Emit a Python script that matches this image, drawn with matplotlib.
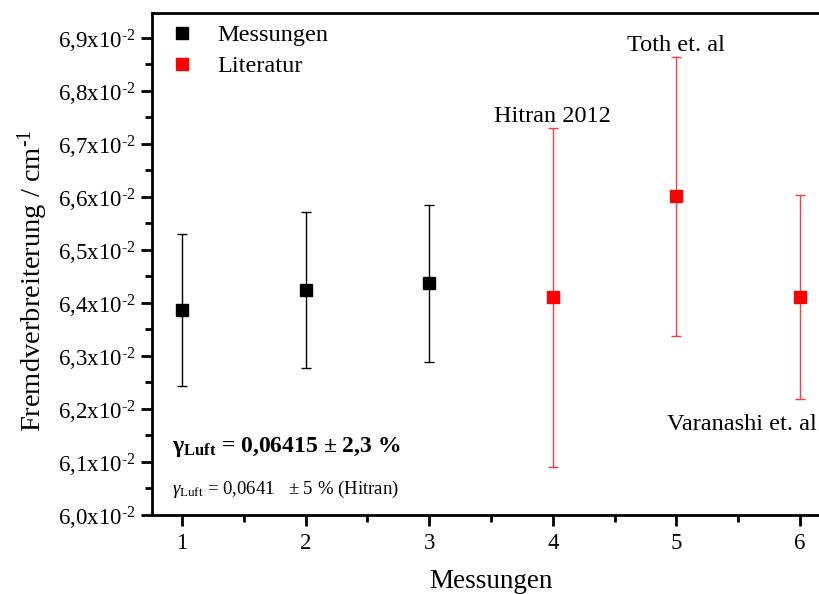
import matplotlib
matplotlib.use("Agg")
import matplotlib.pyplot as plt
from matplotlib.lines import Line2D
from matplotlib.ticker import FixedLocator, FuncFormatter, MultipleLocator

plt.rcParams["font.family"] = ["Liberation Serif", "DejaVu Serif"]
plt.rcParams["mathtext.fontset"] = "custom"
plt.rcParams["mathtext.rm"] = "Liberation Serif"
plt.rcParams["mathtext.it"] = "Liberation Serif:italic"
plt.rcParams["mathtext.bf"] = "Liberation Serif:bold"

# eigene Messungen
mess_x = [1, 2, 3]
mess_y = [0.06387, 0.06425, 0.06437]
mess_err = [0.00143, 0.00147, 0.00148]

# Literaturwerte
lit_x = [4, 5, 6]
lit_y = [0.06411, 0.06601, 0.06411]
lit_err = [0.00320, 0.00263, 0.00193]
lit_names = ["Hitran 2012", "Toth et. al", "Varanashi et. al"]

y_ticks = [0.060, 0.061, 0.062, 0.063, 0.064, 0.065, 0.066, 0.067, 0.068, 0.069]
x_ticks = [1, 2, 3, 4, 5, 6]

W, H = 819, 594
fig = plt.figure(figsize=(W / 100, H / 100), dpi=100)
ax = fig.add_axes([152 / W, (H - 515) / H, (830 - 152) / W, (515 - 13) / H])

ax.errorbar(mess_x, mess_y, yerr=mess_err, fmt="s", color="black",
            ecolor="black", elinewidth=1.0, capsize=3.6, capthick=1.0,
            markersize=8.4)
ax.errorbar(lit_x, lit_y, yerr=lit_err, fmt="s", color="#ff0000",
            ecolor="#ff3b3b", elinewidth=1.0, capsize=3.6, capthick=1.0,
            markersize=8.4)

ax.set_xlim(0.757, 6.243)
ax.set_ylim(0.060, 0.06947)

ax.xaxis.set_major_locator(FixedLocator(x_ticks))
ax.xaxis.set_minor_locator(MultipleLocator(0.5))
ax.yaxis.set_major_locator(FixedLocator(y_ticks))
ax.yaxis.set_minor_locator(MultipleLocator(0.0005))


def fmt_y(v, pos):
    # Exponent mit kurzem Bindestrich statt Minuszeichen
    return f"{v * 100:.1f}".replace(".", ",") + "x10$^{\u2010\\mathrm{2}}$"


ax.yaxis.set_major_formatter(FuncFormatter(fmt_y))
ax.tick_params(which="major", direction="out", length=8, width=2, labelsize=16.5,
               top=False, right=False)
ax.tick_params(which="minor", direction="out", length=5, width=2,
               top=False, right=False)
ax.tick_params(axis="x", pad=5)
ax.tick_params(axis="y", pad=4)

for side in ["left", "bottom", "top"]:
    ax.spines[side].set_linewidth(2)
ax.spines["right"].set_visible(False)

ax.set_xlabel("Messungen", fontsize=19.5)
ax.xaxis.set_label_coords(0.5, -0.108)
ax.set_ylabel("Fremdverbreiterung / cm$^{\u2010\\mathrm{1}}$", fontsize=20.5)
ax.yaxis.set_label_coords(-0.151, 0.466)

# Beschriftung der Literaturwerte
ax.text(lit_x[0], lit_y[0] + lit_err[0] + 0.00011, lit_names[0],
        ha="center", va="baseline", fontsize=17.5)
ax.text(lit_x[1], lit_y[1] + lit_err[1] + 0.00011, lit_names[1],
        ha="center", va="baseline", fontsize=17.5)
ax.text(6.137, 0.061604, lit_names[2], ha="right", va="baseline", fontsize=17.5)

ax.text(0.919, 0.061189, r"$\mathbf{\gamma_{Luft}}$" + " = 0,06415 ± 2,3 %",
        fontsize=17, fontweight="bold", va="baseline")
ax.text(0.919, 0.060396, r"$\gamma_{\mathrm{Luft}}$" + " = 0,0641   ± 5 % (Hitran)",
        fontsize=13.5, va="baseline")

handles = [
    Line2D([], [], marker="s", ls="none", color="black", markersize=8),
    Line2D([], [], marker="s", ls="none", color="#ff0000", markersize=8),
]
ax.legend(handles, ["Messungen", "Literatur"], loc="upper left", frameon=False,
          fontsize=17.5, handlelength=1.0, handletextpad=0.93, borderpad=0,
          borderaxespad=0, labelspacing=0.37, bbox_to_anchor=(0.0265, 0.978))

fig.savefig("out.png", dpi=100)
